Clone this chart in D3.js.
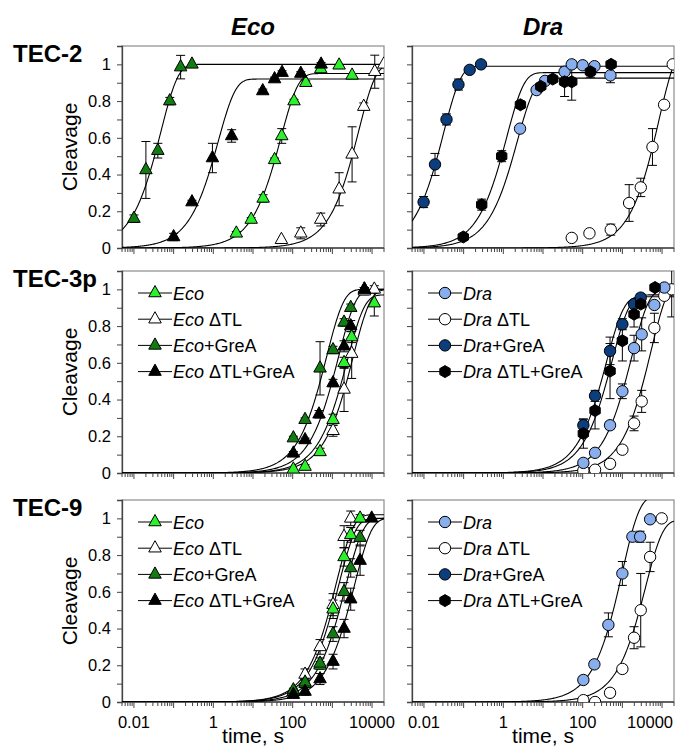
<!DOCTYPE html>
<html>
<head>
<meta charset="utf-8">
<script src="https://cdn.jsdelivr.net/npm/d3@7"></script>
<style>
  body { margin: 0; background: #fff; }
  svg text { font-family: "Liberation Sans", Arial, sans-serif; fill: #000; }
</style>
</head>
<body>
<div id="main"></div>
<script>
// points are [time s, cleavage, error]
const tec2Eco = [[3.8,0.08,0.01],[9,0.155,0.01],[18,0.27,0.02],[35,0.48,0.01],[53,0.61,0.04],[108,0.8,0.01],[214,0.9,0.01],[510,0.975,0.01],[1480,0.995,0],[3140,0.94,0]];
const tec2EcoTL = [[52,0.045,0],[160,0.08,0.03],[510,0.155,0.035],[1480,0.32,0.09],[3140,0.51,0.15],[6180,0.77,0.02],[11700,0.96,0.09],[19800,1.0,0]];
const tec2EcoGreA = [[0.01,0.16,0.02],[0.02,0.425,0.155],[0.04,0.53,0.04],[0.08,0.8,0.02],[0.15,0.985,0.064],[0.29,1.0,0]];
const tec2EcoTLGreA = [[0.1,0.06,0.02],[0.29,0.25,0.01],[0.95,0.49,0.08],[2.9,0.61,0.034],[17.6,0.855,0.01],[35,0.92,0.01],[54,0.955,0.01],[160,0.95,0.01],[520,1.0,0.01]];

const tec2Dra = [[2.64,0.65,0],[6.9,0.86,0.01],[11.3,0.91,0],[35,0.96,0],[53,1.0,0.02],[100,0.995,0],[198,0.99,0],[500,0.94,0.04]];
const tec2DraTL = [[53,0.055,0],[148,0.08,0],[510,0.1,0.03],[1480,0.245,0.1],[2910,0.33,0.05],[5730,0.55,0.1],[11270,0.78,0],[18600,1.0,0]];
const tec2DraGreA = [[0.0098,0.25,0.03],[0.019,0.455,0.06],[0.037,0.7,0.03],[0.074,0.89,0.03],[0.142,0.97,0],[0.274,1.0,0]];
const tec2DraTLGreA = [[0.098,0.06,0.01],[0.285,0.236,0.03],[0.91,0.5,0.03],[2.7,0.78,0.02],[8.8,0.88,0.01],[17.6,0.92,0.01],[35,0.905,0.08],[53,0.905,0.1],[157,0.96,0.03],[520,1.0,0]];

const tec3Eco = [[104,0.02,0],[205,0.035,0.01],[489,0.115,0.02],[1040,0.29,0.03],[1970,0.6,0.03],[3070,0.74,0.03],[6400,1.0,0.01],[11400,0.925,0.07]];
const tec3EcoTL = [[1040,0.23,0.03],[1970,0.455,0.12],[3070,0.65,0.135],[6400,0.99,0.02],[11400,1.0,0.02]];
const tec3EcoGreA = [[104,0.19,0.01],[205,0.29,0.01],[489,0.57,0.145],[1040,0.67,0.02],[1970,0.82,0.02],[2900,0.9,0.02],[6400,1.0,0.01]];
const tec3EcoTLGreA = [[104,0.107,0.01],[205,0.18,0.01],[461,0.32,0.02],[1040,0.49,0.02],[1970,0.69,0.03],[2900,0.8,0.03],[6400,1.0,0.01]];

const tec3Dra = [[104,0.055,0.01],[205,0.11,0.01],[489,0.26,0.02],[1000,0.445,0.04],[1970,0.68,0.07],[3070,0.755,0.09],[6400,0.915,0.01],[11400,1.01,0]];
const tec3DraTL = [[104,0.013,0],[205,0.018,0],[489,0.05,0.02],[1000,0.127,0.02],[1970,0.27,0.04],[3070,0.39,0.06],[6400,0.79,0.08],[11400,0.965,0.02],[17500,1.0,0.15]];
const tec3DraGreA = [[104,0.26,0.03],[205,0.42,0.03],[489,0.665,0.075],[1000,0.81,0.03],[1970,0.92,0.02],[2900,0.955,0.02]];
const tec3DraTLGreA = [[104,0.215,0.08],[205,0.34,0.1],[489,0.555,0.15],[1000,0.72,0.11],[1970,0.865,0.07],[2900,0.92,0.02],[6650,1.01,0]];

const tec9Eco = [[104,0.055,0.01],[205,0.1,0.02],[489,0.2,0.02],[1040,0.505,0.05],[1970,0.79,0.05],[2900,0.91,0.04],[5000,1.0,0.02]];
const tec9EcoTL = [[104,0.055,0.01],[205,0.15,0.03],[489,0.3,0.04],[1040,0.53,0.06],[1970,0.9,0.06],[2900,1.0,0.04]];
const tec9EcoGreA = [[104,0.065,0.01],[205,0.107,0.02],[489,0.21,0.03],[1040,0.37,0.04],[1970,0.6,0.05],[2900,0.73,0.05],[5000,0.895,0.04]];
const tec9EcoTLGreA = [[104,0.04,0.01],[205,0.057,0.02],[489,0.125,0.03],[1040,0.22,0.04],[1970,0.4,0.05],[2900,0.56,0.06],[5000,0.77,0.08],[9800,1.0,0]];

const tec9Dra = [[104,0.12,0.02],[197,0.205,0.02],[444,0.42,0.065],[1000,0.7,0.065],[1790,0.9,0],[2800,0.9,0.03],[5000,0.995,0]];
const tec9DraTL = [[104,0.01,0],[205,0,0],[489,0.05,0.02],[1000,0.18,0.02],[1970,0.35,0.06],[2900,0.5,0.2],[5000,0.79,0.08],[9800,1.0,0]];

// fitted single-exponential curves, [amplitude, rate 1/s] for each series
const tec2EcoFits = [[0.95,0.0198],[1.0,2.2e-4],[1.0,21],[0.92,0.75]];
const tec2DraFits = [[0.925,0.44],[1.1,1.2e-4],[0.99,32],[0.955,0.82]];
const tec3EcoFits = [[0.97,4.2e-4],[1.0,3e-4],[1.0,1.4e-3],[1.0,7e-4]];
const tec3DraFits = [[1.0,5.8e-4],[1.05,1.9e-4],[0.96,2.5e-3],[0.97,1.8e-3]];
const tec9EcoFits = [[1.0,7e-4],[1.02,8e-4],[1.0,4.6e-4],[1.0,2.8e-4]];
const tec9DraFits = [[1.12,1.0e-3],[0.99,2.6e-4],null,null];

const rowNames = ["TEC-2", "TEC-3p", "TEC-9"];
const colNames = ["Eco", "Dra"];
const legendSuffix = ["", " \u0394TL", "+GreA", " \u0394TL+GreA"];
const xTickLabels = [0.01, 1, 100, 10000];
const yTickLabels = [0, 0.2, 0.4, 0.6, 0.8, 1];

const ecoColors = ["#2cf02c", "#ffffff", "#117c11", "#000000"];
const draColors = ["#88aeee", "#ffffff", "#0c3d7d", "#000000"];

const panels = [
  { row: 0, col: 0, series: [tec2Eco, tec2EcoTL, tec2EcoGreA, tec2EcoTLGreA], fits: tec2EcoFits },
  { row: 0, col: 1, series: [tec2Dra, tec2DraTL, tec2DraGreA, tec2DraTLGreA], fits: tec2DraFits },
  { row: 1, col: 0, series: [tec3Eco, tec3EcoTL, tec3EcoGreA, tec3EcoTLGreA], fits: tec3EcoFits, legend: true },
  { row: 1, col: 1, series: [tec3Dra, tec3DraTL, tec3DraGreA, tec3DraTLGreA], fits: tec3DraFits, legend: true },
  { row: 2, col: 0, series: [tec9Eco, tec9EcoTL, tec9EcoGreA, tec9EcoTLGreA], fits: tec9EcoFits, legend: true },
  { row: 2, col: 1, series: [tec9Dra, tec9DraTL, [], []], fits: tec9DraFits, legend: true }
];

const W = 679, H = 746;
const colLeft = [122, 412], rowTop = [46, 271, 500];
const panelW = 262, panelH = 202;

const svg = d3.select("#main").append("svg")
  .attr("width", W).attr("height", H);

const x = d3.scaleLog().domain([0.005, 20000]).range([0, panelW]);
const y = d3.scaleLinear().domain([0, 1.1]).range([panelH, 0]);

// marker paths
function triangle(s) {
  var h = s * 0.9;
  return "M0," + (-h * 2 / 3) + "L" + (s / 2) + "," + (h / 3) + "L" + (-s / 2) + "," + (h / 3) + "Z";
}
function hexagon(r) {
  var pts = d3.range(6).map(function(i) {
    var a = Math.PI / 6 + i * Math.PI / 3;
    return [r * Math.cos(a), r * Math.sin(a)];
  });
  return "M" + pts.join("L") + "Z";
}
function marker(col, i) {
  if (col === 0) return triangle(12.5);
  if (i === 3) return hexagon(6);
  return d3.symbol().type(d3.symbolCircle).size(Math.PI * 5.7 * 5.7)();
}

// log ticks: every 1..9 x 10^n
var minorTicks = [];
d3.range(-3, 5).forEach(function(e) {
  d3.range(1, 10).forEach(function(m) {
    var v = m * Math.pow(10, e);
    if (v >= 0.005 && v <= 20000) minorTicks.push({ v: v, major: m === 1 });
  });
});

var tLo = Math.log10(0.005), tHi = Math.log10(20000);
var tSample = d3.range(300).map(function(i) { return Math.pow(10, tLo + (tHi - tLo) * i / 299); });

panels.forEach(function(p, pi) {
  var colors = p.col === 0 ? ecoColors : draColors;
  var g = svg.append("g")
    .attr("transform", "translate(" + colLeft[p.col] + "," + rowTop[p.row] + ")");

  g.append("clipPath").attr("id", "clip" + pi)
    .append("rect").attr("width", panelW).attr("height", panelH);

  // frame
  g.append("rect").attr("width", panelW).attr("height", panelH)
    .attr("fill", "none").attr("stroke", "#8c8c8c").attr("stroke-width", 1.2);

  // y ticks
  var yAxis = d3.axisLeft(y).tickValues(d3.range(0, 11).map(function(d) { return d / 10; }))
    .tickSize(5).tickPadding(6)
    .tickFormat(function(d) {
      if (p.col === 1) return "";
      return yTickLabels.some(function(v) { return Math.abs(v - d) < 1e-9; }) ? d3.format("~g")(d) : "";
    });
  var ya = g.append("g").call(yAxis);
  ya.select(".domain").attr("stroke", "#444").attr("stroke-width", 1.3);
  ya.selectAll(".tick line").attr("stroke", "#444");
  ya.selectAll("text").style("font-size", "16.5px");

  // x ticks
  var xa = g.append("g").attr("transform", "translate(0," + panelH + ")");
  xa.append("line").attr("x1", 0).attr("x2", panelW).attr("stroke", "#444").attr("stroke-width", 1.3);
  xa.selectAll("line.tk").data(minorTicks).enter().append("line").attr("class", "tk")
    .attr("x1", function(d) { return x(d.v); }).attr("x2", function(d) { return x(d.v); })
    .attr("y1", 0).attr("y2", function(d) { return d.major ? 6 : 4; })
    .attr("stroke", "#444");
  if (p.row === 2) {
    xa.selectAll("text").data(xTickLabels).enter().append("text")
      .attr("x", function(d) { return x(d); }).attr("y", 26)
      .attr("text-anchor", "middle").style("font-size", "16.5px")
      .text(function(d) { return d; });
    // keep the last label inside the picture on the right column
    if (p.col === 1) {
      xa.selectAll("text").filter(function(d) { return d === 10000; })
        .attr("x", panelW - 1).attr("text-anchor", "end");
    }
  }

  var plot = g.append("g").attr("clip-path", "url(#clip" + pi + ")");

  // fitted curves
  var line = d3.line().x(function(d) { return x(d[0]); }).y(function(d) { return y(d[1]); });
  p.fits.forEach(function(f) {
    if (!f) return;
    var pts = tSample.map(function(t) { return [t, f[0] * (1 - Math.exp(-f[1] * t))]; });
    plot.append("path").datum(pts).attr("d", line)
      .attr("fill", "none").attr("stroke", "#000").attr("stroke-width", 1.1);
  });

  // error bars
  p.series.forEach(function(s) {
    var eb = plot.selectAll(null).data(s.filter(function(d) { return d[2] > 0; })).enter().append("g")
      .attr("stroke", "#000").attr("stroke-width", 1);
    eb.append("line")
      .attr("x1", function(d) { return x(d[0]); }).attr("x2", function(d) { return x(d[0]); })
      .attr("y1", function(d) { return y(d[1] - d[2]); }).attr("y2", function(d) { return y(d[1] + d[2]); });
    [-1, 1].forEach(function(sg) {
      eb.append("line")
        .attr("x1", function(d) { return x(d[0]) - 4.5; }).attr("x2", function(d) { return x(d[0]) + 4.5; })
        .attr("y1", function(d) { return y(d[1] + sg * d[2]); }).attr("y2", function(d) { return y(d[1] + sg * d[2]); });
    });
  });

  // markers
  var order = [1, 0, 2, 3];
  order.forEach(function(i) {
    plot.selectAll(null).data(p.series[i]).enter().append("path")
      .attr("d", marker(p.col, i))
      .attr("transform", function(d) { return "translate(" + x(d[0]) + "," + y(d[1]) + ")"; })
      .attr("fill", colors[i]).attr("stroke", "#000").attr("stroke-width", 1);
  });

  // legend
  if (p.legend) {
    var lg = g.append("g").attr("transform", "translate(0,22)");
    legendSuffix.forEach(function(suf, i) {
      var r = lg.append("g").attr("transform", "translate(0," + (i * 26.2) + ")");
      r.append("line").attr("x1", 16).attr("x2", 50).attr("stroke", "#000").attr("stroke-width", 1);
      r.append("path").attr("d", marker(p.col, i)).attr("transform", "translate(33,0)")
        .attr("fill", colors[i]).attr("stroke", "#000");
      var t = r.append("text").attr("x", 51).attr("y", 6.5).style("font-size", "18px");
      t.append("tspan").style("font-style", "italic").text(colNames[p.col]);
      if (suf) t.append("tspan").text(suf);
    });
  }

  // column titles
  if (p.row === 0) {
    svg.append("text").attr("x", colLeft[p.col] + panelW / 2).attr("y", 35)
      .attr("text-anchor", "middle").style("font-size", "24px")
      .style("font-weight", "bold").style("font-style", "italic")
      .text(colNames[p.col]);
  }
  if (p.col === 0) {
    svg.append("text").attr("x", 13).attr("y", rowTop[p.row] + 16)
      .style("font-size", "24px").style("font-weight", "bold")
      .text(rowNames[p.row]);
    svg.append("text")
      .attr("transform", "translate(77," + (rowTop[p.row] + panelH / 2) + ") rotate(-90)")
      .attr("text-anchor", "middle").style("font-size", "21px")
      .text("Cleavage");
  }
  if (p.row === 2) {
    svg.append("text").attr("x", colLeft[p.col] + panelW / 2).attr("y", 743)
      .attr("text-anchor", "middle").style("font-size", "21px")
      .text("time, s");
  }
});
</script>
</body>
</html>
